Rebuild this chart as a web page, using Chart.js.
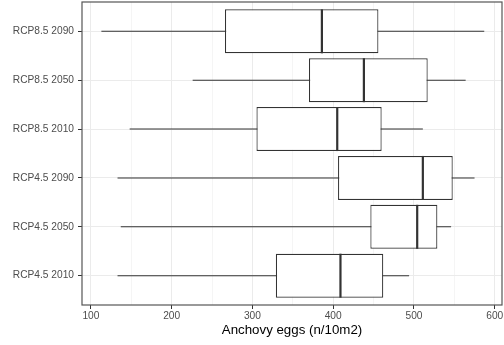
<!DOCTYPE html>
<html>
<head>
<meta charset="utf-8">
<script src="https://cdn.jsdelivr.net/npm/chart.js@4"></script>
<style>
  html, body { margin: 0; padding: 0; background: #fff; }
  canvas { display: block; }
</style>
</head>
<body>
<canvas id="eggsChart" width="504" height="345"></canvas>
<script>
// scenarios, listed top to bottom as in the plot
const categories = ['RCP8.5 2090', 'RCP8.5 2050', 'RCP8.5 2010', 'RCP4.5 2090', 'RCP4.5 2050', 'RCP4.5 2010'];
const whiskerLow = [113, 226, 148, 133, 137, 133];
const q1 = [266, 370, 305, 406, 446, 329];
const medians = [386, 438, 405, 511, 504, 409];
const q3 = [456, 517, 460, 548, 529, 462];
const whiskerHigh = [587, 564, 511, 575, 546, 494];
const xTicks = [100, 200, 300, 400, 500, 600];
const xMinorTicks = [150, 250, 350, 450, 550];

const ink = '#333333';
const tickFont = { family: 'Liberation Sans, Arial, sans-serif', size: 10.2 };

// median lines + panel border, placed with the chart's own scales
const boxExtras = {
    id: 'boxExtras',
    afterDatasetsDraw(chart) {
        const ctx = chart.ctx;
        const xs = chart.scales.x;
        const meta = chart.getDatasetMeta(0);
        ctx.save();
        ctx.strokeStyle = ink;
        ctx.lineWidth = 2.2;
        meta.data.forEach((bar, i) => {
            const { y, height } = bar.getProps(['y', 'height'], true);
            const px = xs.getPixelForValue(medians[i]);
            ctx.beginPath();
            ctx.moveTo(px, y - height / 2);
            ctx.lineTo(px, y + height / 2);
            ctx.stroke();
        });
        const a = chart.chartArea;
        ctx.strokeStyle = '#555';
        ctx.lineWidth = 1.2;
        ctx.strokeRect(a.left, a.top, a.right - a.left, a.bottom - a.top);
        ctx.restore();
    }
};

new Chart(document.getElementById('eggsChart'), {
    type: 'bar',
    data: {
        datasets: [{
            data: categories.map((c, i) => ({ x: [q1[i], q3[i]], y: i })),
            backgroundColor: '#ffffff',
            borderColor: ink,
            borderWidth: 1.2,
            borderSkipped: false,
            grouped: false,
            barPercentage: 0.9,
            categoryPercentage: 1
        }, {
            data: categories.map((c, i) => ({ x: [whiskerLow[i], whiskerHigh[i]], y: i })),
            backgroundColor: ink,
            borderWidth: 0,
            grouped: false,
            maxBarThickness: 1
        }]
    },
    options: {
        indexAxis: 'y',
        responsive: false,
        animation: false,
        layout: { padding: { top: 2, right: 2, left: 0, bottom: 0 } },
        plugins: { legend: { display: false }, tooltip: { enabled: false } },
        scales: {
            x: {
                type: 'linear',
                min: 89,
                max: 609,
                offset: false,
                afterBuildTicks: s => {
                    s.ticks = xTicks.concat(xMinorTicks).sort((a, b) => a - b).map(v => ({ value: v }));
                },
                afterFit: s => {
                    s.height = 40;
                    s.paddingLeft = 0;
                    s.paddingRight = 0;
                },
                ticks: {
                    autoSkip: false,
                    maxRotation: 0,
                    padding: 1,
                    color: '#4d4d4d',
                    font: tickFont,
                    callback: v => (xTicks.includes(v) ? v : '')
                },
                grid: {
                    offset: false,
                    color: c => (c.tick && xTicks.includes(c.tick.value) ? '#ebebeb' : '#f5f5f5'),
                    tickColor: c => (c.tick && xTicks.includes(c.tick.value) ? ink : 'rgba(0,0,0,0)'),
                    tickLength: 4
                },
                border: { display: false },
                title: {
                    display: true,
                    text: 'Anchovy eggs (n/10m2)',
                    color: '#000',
                    font: { family: 'Liberation Sans, Arial, sans-serif', size: 13.3, lineHeight: 1.2 },
                    padding: { top: 0, bottom: 7 }
                }
            },
            y: {
                type: 'linear',
                reverse: true,
                offset: false,
                min: -0.6,
                max: categories.length - 0.4,
                afterBuildTicks: s => {
                    s.ticks = categories.map((c, i) => ({ value: i }));
                },
                afterFit: s => {
                    s.width = 82;
                    s.paddingTop = 0;
                    s.paddingBottom = 0;
                },
                ticks: {
                    autoSkip: false,
                    padding: 4,
                    color: '#4d4d4d',
                    font: tickFont,
                    callback: v => categories[v]
                },
                grid: { offset: false, color: '#ebebeb', tickColor: ink, tickLength: 4 },
                border: { display: false }
            }
        }
    },
    plugins: [boxExtras]
});
</script>
</body>
</html>
